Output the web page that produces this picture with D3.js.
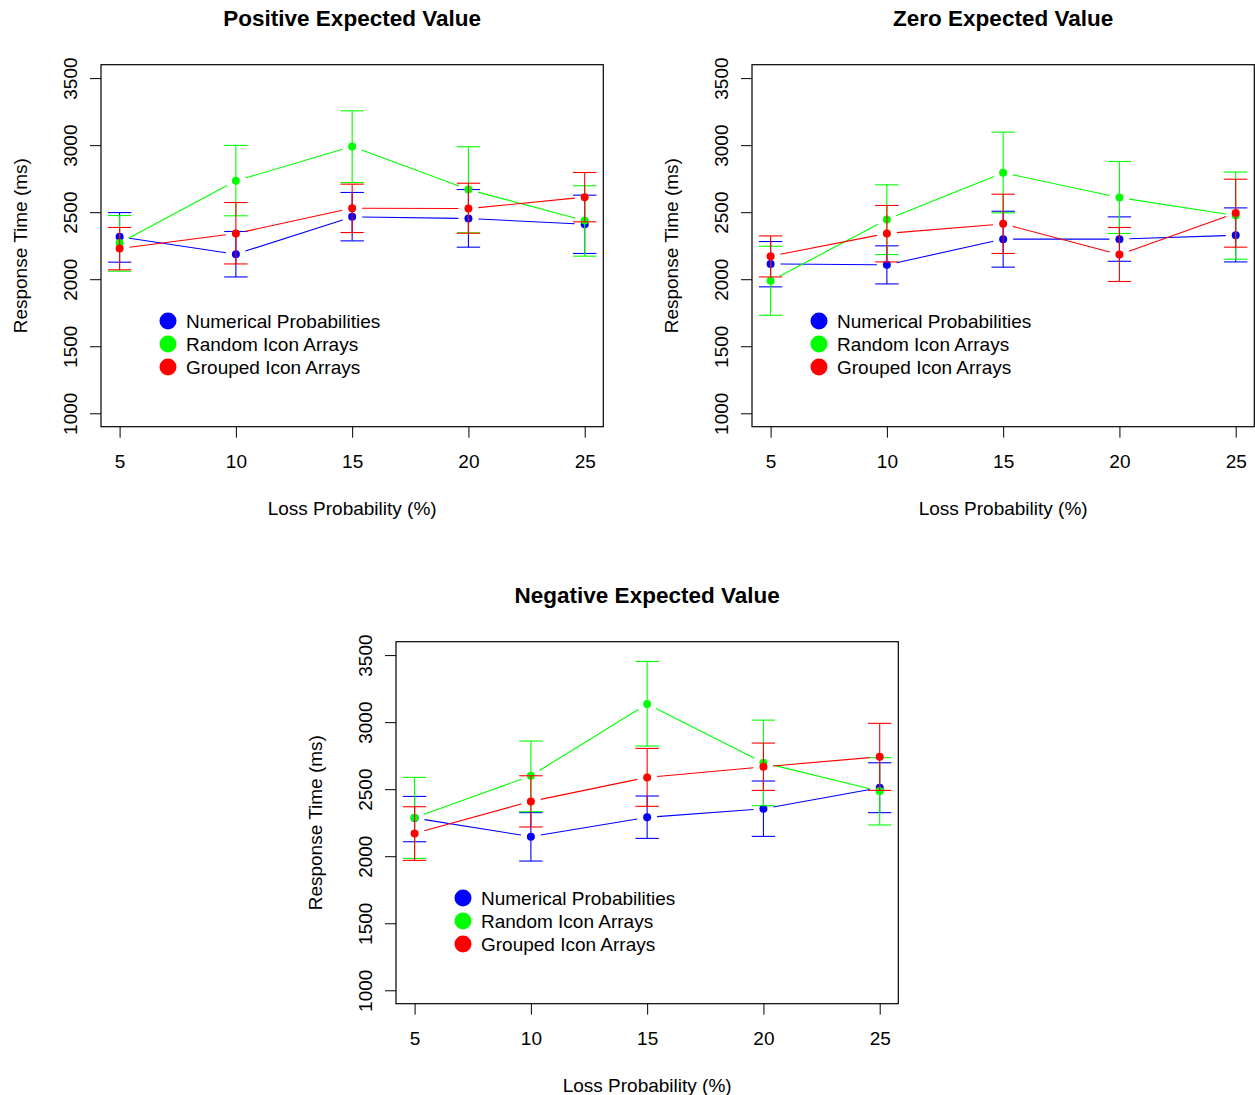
<!DOCTYPE html>
<html><head><meta charset="utf-8">
<script src="https://cdn.jsdelivr.net/npm/d3@7"></script>
<style>
body{margin:0;background:#fff}
text{font-family:"Liberation Sans",Arial,Helvetica,sans-serif;fill:#000}
</style>
</head><body>
<svg id="chart" width="1255" height="1095"></svg>
<script>
// ---------- data ----------
const lossProb = [5, 10, 15, 20, 25];
const yTickValues = [1000, 1500, 2000, 2500, 3000, 3500];
const xTickLabels = ["5", "10", "15", "20", "25"];
const seriesNames = ["Numerical Probabilities", "Random Icon Arrays", "Grouped Icon Arrays"];
const seriesColors = ["#0000ff", "#00ff00", "#ff0000"];
const panelTitles = ["Positive Expected Value", "Zero Expected Value", "Negative Expected Value"];
const xLabel = "Loss Probability (%)";
const yLabel = "Response Time (ms)";

// Positive expected value
const posNumMean = [2316, 2187, 2465, 2453, 2410];
const posNumHi   = [2497, 2356, 2647, 2669, 2627];
const posNumLo   = [2127, 2017, 2286, 2239, 2192];
const posRandMean = [2271, 2734, 2990, 2669, 2438];
const posRandHi   = [2475, 2998, 3256, 2988, 2697];
const posRandLo   = [2060, 2473, 2721, 2346, 2172];
const posGrpMean = [2229, 2341, 2530, 2527, 2612];
const posGrpHi   = [2386, 2572, 2709, 2716, 2796];
const posGrpLo   = [2070, 2114, 2348, 2343, 2428];

// Zero expected value
const zeroNumMean = [2114, 2107, 2299, 2299, 2328];
const zeroNumHi   = [2281, 2249, 2507, 2465, 2532];
const zeroNumLo   = [1943, 1965, 2090, 2134, 2129];
const zeroRandMean = [1988, 2445, 2794, 2609, 2475];
const zeroRandHi   = [2246, 2704, 3097, 2878, 2799];
const zeroRandLo   = [1731, 2184, 2495, 2341, 2149];
const zeroGrpMean = [2172, 2341, 2413, 2184, 2493];
const zeroGrpHi   = [2323, 2550, 2634, 2386, 2746];
const zeroGrpLo   = [2017, 2129, 2192, 1983, 2239];

// Negative expected value
const negNumMean = [2285, 2146, 2290, 2354, 2511];
const negNumHi   = [2446, 2325, 2449, 2561, 2697];
const negNumLo   = [2108, 1964, 2133, 2148, 2325];
const negRandMean = [2287, 2600, 3135, 2697, 2486];
const negRandHi   = [2588, 2859, 3453, 3015, 2735];
const negRandLo   = [1984, 2332, 2822, 2377, 2233];
const negGrpMean = [2170, 2409, 2588, 2667, 2742];
const negGrpHi   = [2369, 2600, 2804, 2844, 2991];
const negGrpLo   = [1969, 2218, 2372, 2491, 2491];

const panelData = [
  [[posNumMean, posNumHi, posNumLo], [posRandMean, posRandHi, posRandLo], [posGrpMean, posGrpHi, posGrpLo]],
  [[zeroNumMean, zeroNumHi, zeroNumLo], [zeroRandMean, zeroRandHi, zeroRandLo], [zeroGrpMean, zeroGrpHi, zeroGrpLo]],
  [[negNumMean, negNumHi, negNumLo], [negRandMean, negRandHi, negRandLo], [negGrpMean, negGrpHi, negGrpLo]]
];

// ---------- layout ----------
const panelPos = [{left: 101, top: 64.7}, {left: 752, top: 64.7}, {left: 396, top: 641.7}];
const plotW = 502.3, plotH = 362;
const fontSize = 19, titleSize = 22.5;
const gap = 10, capHalf = 11.7, ptR = 4, legR = 8.5, tickLen = 11;

const svg = d3.select("#chart");

panelPos.forEach((p, pi) => {
  const g = svg.append("g").attr("transform", `translate(${p.left},${p.top})`);
  const x = d3.scaleLinear().domain([4.2, 25.8]).range([0, plotW]);
  const y = d3.scaleLinear().domain([900, 3600]).range([plotH, 0]);

  // title
  g.append("text").attr("x", plotW / 2).attr("y", -39)
    .attr("text-anchor", "middle").attr("font-size", titleSize).attr("font-weight", "bold")
    .text(panelTitles[pi]);

  // axes
  const xAxis = d3.axisBottom(x).tickValues(lossProb).tickFormat((d, i) => xTickLabels[i])
    .tickSize(tickLen).tickPadding(0);
  const xa = g.append("g").attr("transform", `translate(0,${plotH})`).call(xAxis);
  xa.select(".domain").remove();
  xa.selectAll("line").attr("stroke", "#000");
  xa.selectAll("text").attr("font-size", fontSize).attr("dy", null)
    .attr("y", 41.5).attr("font-family", null);

  const yAxis = d3.axisLeft(y).tickValues(yTickValues).tickFormat(d3.format("d"))
    .tickSize(tickLen).tickPadding(0);
  const ya = g.append("g").call(yAxis);
  ya.select(".domain").remove();
  ya.selectAll("line").attr("stroke", "#000");
  ya.selectAll("text").attr("font-size", fontSize).attr("dy", null).attr("x", null)
    .attr("font-family", null)
    .attr("text-anchor", "middle")
    .attr("transform", "translate(-24,0) rotate(-90)");

  // axis labels
  g.append("text").attr("x", plotW / 2).attr("y", plotH + 88)
    .attr("text-anchor", "middle").attr("font-size", fontSize).text(xLabel);
  g.append("text").attr("transform", `translate(-74,${plotH / 2}) rotate(-90)`)
    .attr("text-anchor", "middle").attr("font-size", fontSize).text(yLabel);

  // series
  panelData[pi].forEach((s, si) => {
    const [mean, hi, lo] = s;
    const col = seriesColors[si];
    const sg = g.append("g");
    // lines with gaps (type = "b")
    for (let i = 0; i < lossProb.length - 1; i++) {
      const x1 = x(lossProb[i]), y1 = y(mean[i]);
      const x2 = x(lossProb[i + 1]), y2 = y(mean[i + 1]);
      const len = Math.hypot(x2 - x1, y2 - y1);
      const ux = (x2 - x1) / len, uy = (y2 - y1) / len;
      sg.append("line")
        .attr("x1", x1 + ux * gap).attr("y1", y1 + uy * gap)
        .attr("x2", x2 - ux * gap).attr("y2", y2 - uy * gap)
        .attr("stroke", col).attr("stroke-width", 1.1);
    }
    // error bars
    lossProb.forEach((lp, i) => {
      const cx = x(lp);
      sg.append("line").attr("x1", cx).attr("x2", cx).attr("y1", y(lo[i])).attr("y2", y(hi[i]))
        .attr("stroke", col).attr("stroke-width", 1.1);
      [hi[i], lo[i]].forEach(v => {
        sg.append("line").attr("x1", cx - capHalf).attr("x2", cx + capHalf)
          .attr("y1", y(v)).attr("y2", y(v)).attr("stroke", col).attr("stroke-width", 1.1);
      });
    });
    // points
    sg.selectAll("circle").data(mean).join("circle")
      .attr("cx", (d, i) => x(lossProb[i])).attr("cy", d => y(d))
      .attr("r", ptR).attr("fill", col);
  });

  // plot box
  g.append("rect").attr("x", 0).attr("y", 0).attr("width", plotW).attr("height", plotH)
    .attr("fill", "none").attr("stroke", "#000").attr("stroke-width", 1.2);

  // legend
  const lg = g.append("g").attr("transform", `translate(67,256.3)`);
  seriesNames.forEach((n, i) => {
    lg.append("circle").attr("cx", 0).attr("cy", i * 23).attr("r", legR).attr("fill", seriesColors[i]);
    lg.append("text").attr("x", 18).attr("y", i * 23).attr("dy", "0.36em")
      .attr("font-size", fontSize).text(n);
  });
});
</script>
</body></html>
